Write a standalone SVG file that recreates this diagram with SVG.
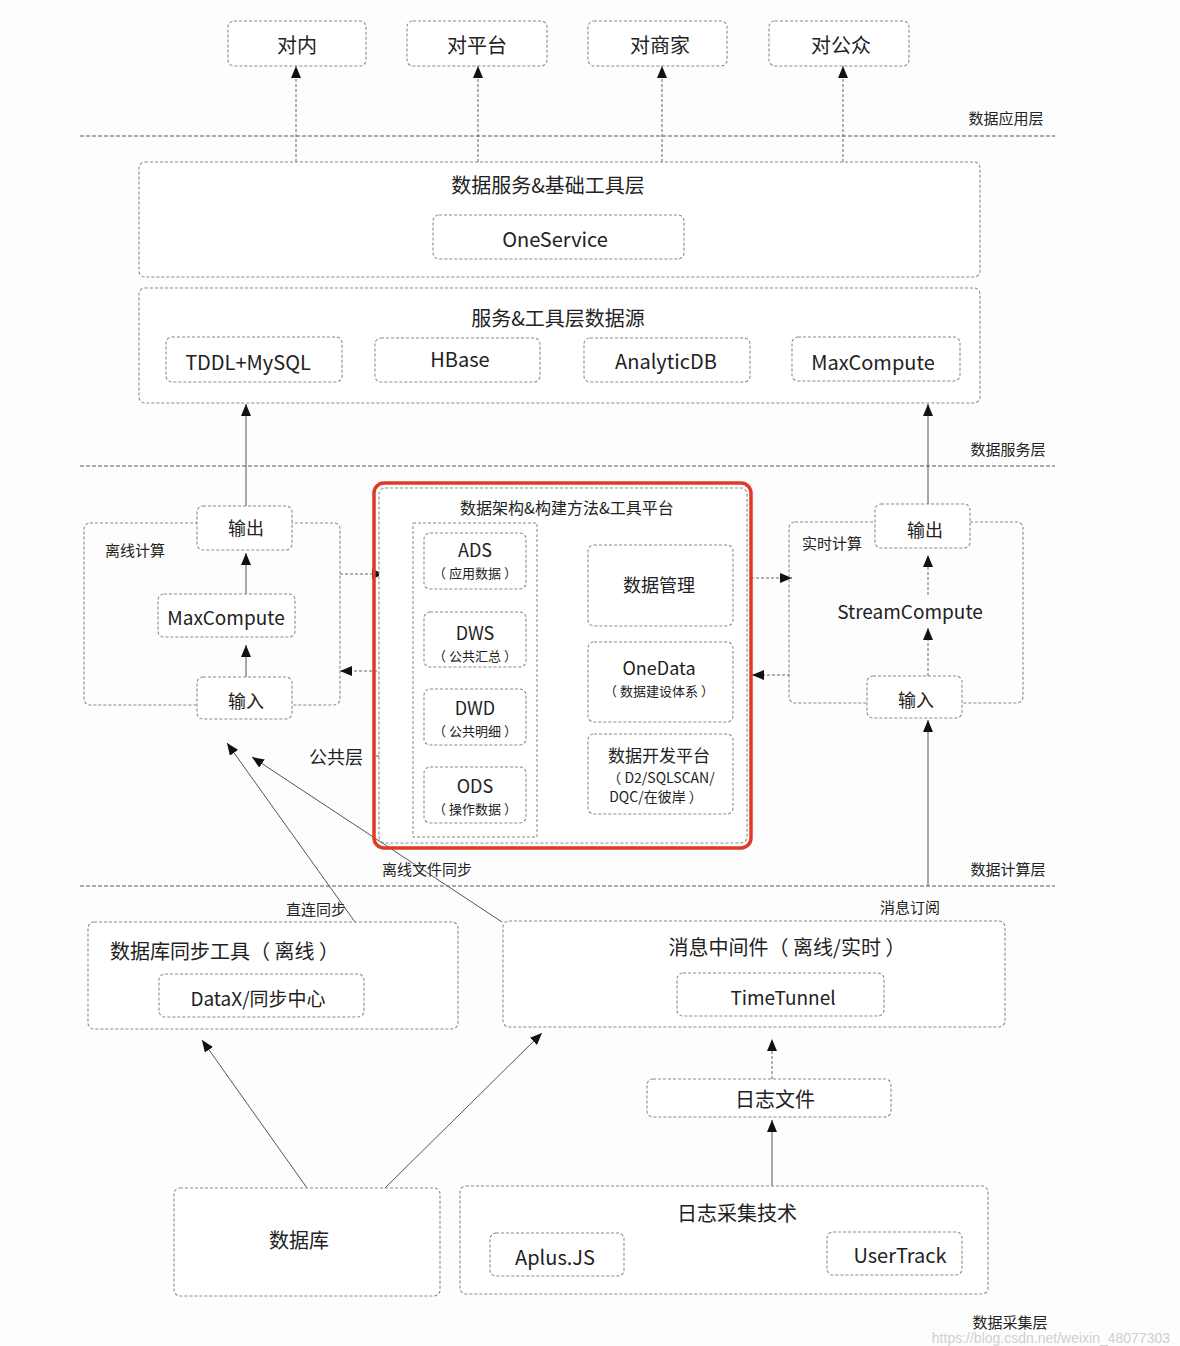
<svg xmlns="http://www.w3.org/2000/svg" width="1180" height="1346" viewBox="0 0 1180 1346">
<defs>
<style>
.box{fill:#fff;stroke:#8a8a8a;stroke-width:1.1;stroke-dasharray:3 2}
.sep{stroke:#8f8f8f;stroke-width:1.4;stroke-dasharray:4 2;fill:none}
.ln{stroke:#555;stroke-width:1;fill:none}
.dl{stroke:#666;stroke-width:1;fill:none;stroke-dasharray:3 2}
.t{font-family:"Noto Sans CJK SC","Noto Sans",sans-serif;fill:#222;text-anchor:middle;dominant-baseline:central}
.l{text-anchor:start}
.s13{font-size:13px}.s14{font-size:14px}.s15{font-size:15px}.s16{font-size:16px}.s17{font-size:17px}.s18{font-size:18px}.s19{font-size:19px}.s20{font-size:20px}
</style>
<marker id="ah" viewBox="0 0 12 10" refX="12" refY="5" markerWidth="12" markerHeight="10" orient="auto" markerUnits="userSpaceOnUse">
<path d="M0,0 L12,5 L0,10 z" fill="#111"/>
</marker>
</defs>
<rect width="1180" height="1346" fill="#fdfdfd"/>

<g id="separators">
<line class="sep" x1="80" y1="136" x2="1055" y2="136"/>
<line class="sep" x1="80" y1="466" x2="1055" y2="466"/>
<line class="sep" x1="80" y1="886" x2="1055" y2="886"/>
</g>

<g id="layer-labels">
<text class="t s15" x="1006" y="117">数据应用层</text>
<text class="t s15" x="1008" y="448">数据服务层</text>
<text class="t s15" x="1008" y="868">数据计算层</text>
<text class="t s15" x="1010" y="1321">数据采集层</text>
</g>

<g id="connectors">
<line class="dl" x1="296" y1="162" x2="296" y2="66" marker-end="url(#ah)"/>
<line class="dl" x1="478" y1="162" x2="478" y2="66" marker-end="url(#ah)"/>
<line class="dl" x1="662" y1="162" x2="662" y2="66" marker-end="url(#ah)"/>
<line class="dl" x1="843" y1="162" x2="843" y2="66" marker-end="url(#ah)"/>
<line class="ln" x1="246" y1="506" x2="246" y2="404" marker-end="url(#ah)"/>
<line class="ln" x1="928" y1="504" x2="928" y2="404" marker-end="url(#ah)"/>
<line class="ln" x1="246" y1="594" x2="246" y2="553" marker-end="url(#ah)"/>
<line class="ln" x1="246" y1="677" x2="246" y2="645" marker-end="url(#ah)"/>
<line class="dl" x1="340" y1="574" x2="384" y2="574" marker-end="url(#ah)"/>
<line class="dl" x1="382" y1="671" x2="340" y2="671" marker-end="url(#ah)"/>
<line class="dl" x1="751" y1="578" x2="792" y2="578" marker-end="url(#ah)"/>
<line class="dl" x1="790" y1="675" x2="752" y2="675" marker-end="url(#ah)"/>
<line class="dl" x1="588" y1="564" x2="543" y2="564" marker-end="url(#ah)"/>
<line class="dl" x1="588" y1="688" x2="543" y2="688" marker-end="url(#ah)"/>
<line class="dl" x1="588" y1="794" x2="543" y2="794" marker-end="url(#ah)"/>
<line class="dl" x1="928" y1="595" x2="928" y2="555" marker-end="url(#ah)"/>
<line class="dl" x1="928" y1="676" x2="928" y2="628" marker-end="url(#ah)"/>
<line class="ln" x1="928" y1="886" x2="928" y2="720" marker-end="url(#ah)"/>
<line class="ln" x1="355" y1="922" x2="227" y2="743" marker-end="url(#ah)"/>
<line class="ln" x1="502" y1="922" x2="252" y2="757" marker-end="url(#ah)"/>
<line class="ln" x1="307" y1="1188" x2="202" y2="1040" marker-end="url(#ah)"/>
<line class="ln" x1="385" y1="1188" x2="542" y2="1033" marker-end="url(#ah)"/>
<line class="dl" x1="772" y1="1079" x2="772" y2="1039" marker-end="url(#ah)"/>
<line class="ln" x1="772" y1="1186" x2="772" y2="1120" marker-end="url(#ah)"/>
<polyline class="ln" points="424,633 397,633 397,808 424,808"/>
<line class="ln" x1="376" y1="756" x2="397" y2="756"/>
</g>

<g id="app-neinei"><rect class="box" x="228" y="21" width="138" height="45" rx="6"/><text class="t s20" x="297" y="44">对内</text></g>
<g id="app-platform"><rect class="box" x="407" y="21" width="140" height="45" rx="6"/><text class="t s20" x="477" y="44">对平台</text></g>
<g id="app-merchant"><rect class="box" x="588" y="21" width="139" height="45" rx="6"/><text class="t s20" x="660" y="44">对商家</text></g>
<g id="app-public"><rect class="box" x="769" y="21" width="140" height="45" rx="6"/><text class="t s20" x="841" y="44">对公众</text></g>

<g id="service-tool-layer">
<rect class="box" x="139" y="162" width="841" height="115" rx="6"/>
<text class="t s20" x="548" y="184">数据服务&amp;基础工具层</text>
</g>
<g id="oneservice"><rect class="box" x="433" y="215" width="251" height="44" rx="6"/><text class="t s20" x="555" y="238">OneService</text></g>

<g id="datasource-layer">
<rect class="box" x="139" y="288" width="841" height="115" rx="6"/>
<text class="t s20" x="558" y="317">服务&amp;工具层数据源</text>
</g>
<g id="tddl"><rect class="box" x="166" y="337" width="176" height="45" rx="6"/><text class="t s20" x="248" y="361">TDDL+MySQL</text></g>
<g id="hbase"><rect class="box" x="375" y="338" width="165" height="44" rx="6"/><text class="t s20" x="460" y="358">HBase</text></g>
<g id="analyticdb"><rect class="box" x="584" y="338" width="166" height="44" rx="6"/><text class="t s20" x="666" y="360">AnalyticDB</text></g>
<g id="maxcompute-store"><rect class="box" x="792" y="337" width="168" height="44" rx="6"/><text class="t s20" x="873" y="361">MaxCompute</text></g>

<g id="offline-compute">
<rect class="box" x="84" y="523" width="256" height="182" rx="6" style="fill:none"/>
<text class="t s15 l" x="105" y="549">离线计算</text>
</g>
<g id="offline-output"><rect class="box" x="197" y="506" width="95" height="44" rx="6"/><text class="t s18" x="246" y="527">输出</text></g>
<g id="offline-maxcompute"><rect class="box" x="158" y="594" width="137" height="43" rx="6"/><text class="t s19" x="226" y="616">MaxCompute</text></g>
<g id="offline-input"><rect class="box" x="197" y="677" width="95" height="42" rx="6"/><text class="t s18" x="246" y="700">输入</text></g>

<g id="platform">
<rect class="box" x="379" y="488" width="368" height="355" rx="6"/>
<text class="t s16" x="567" y="507">数据架构&amp;构建方法&amp;工具平台</text>
<rect x="413" y="523" width="124" height="314" fill="none" stroke="#888" stroke-width="1" stroke-dasharray="3 2"/>
<rect x="374" y="483" width="377" height="365" rx="10" fill="none" stroke="#e03a26" stroke-width="3.5"/>
</g>
<g id="ads"><rect class="box" x="424" y="533" width="102" height="56" rx="6"/><text class="t s18" x="475" y="549">ADS</text><text class="t s13" x="475" y="572">（ 应用数据 ）</text></g>
<g id="dws"><rect class="box" x="424" y="612" width="102" height="55" rx="6"/><text class="t s18" x="475" y="632">DWS</text><text class="t s13" x="475" y="655">（ 公共汇总 ）</text></g>
<g id="dwd"><rect class="box" x="424" y="689" width="102" height="56" rx="6"/><text class="t s18" x="475" y="707">DWD</text><text class="t s13" x="475" y="730">（ 公共明细 ）</text></g>
<g id="ods"><rect class="box" x="424" y="767" width="102" height="56" rx="6"/><text class="t s18" x="475" y="785">ODS</text><text class="t s13" x="475" y="808">（ 操作数据 ）</text></g>
<g id="data-mgmt"><rect class="box" x="588" y="545" width="145" height="81" rx="6"/><text class="t s18" x="659" y="584">数据管理</text></g>
<g id="onedata"><rect class="box" x="588" y="642" width="145" height="80" rx="6"/><text class="t s18" x="659" y="667">OneData</text><text class="t s13" x="659" y="690">（ 数据建设体系 ）</text></g>
<g id="dev-platform"><rect class="box" x="588" y="734" width="145" height="80" rx="6"/><text class="t s17" x="659" y="754">数据开发平台</text><text class="t s14" x="661" y="777">（ D2/SQLSCAN/</text><text class="t s14" x="656" y="796">DQC/在彼岸 ）</text></g>
<g id="public-layer-label"><text class="t s18" x="336" y="756">公共层</text></g>

<g id="realtime-compute">
<rect class="box" x="789" y="522" width="234" height="181" rx="6" style="fill:none"/>
<text class="t s15 l" x="802" y="542">实时计算</text>
<text class="t s19" x="910" y="610">StreamCompute</text>
</g>
<g id="realtime-output"><rect class="box" x="875" y="504" width="95" height="44" rx="6"/><text class="t s18" x="925" y="529">输出</text></g>
<g id="realtime-input"><rect class="box" x="867" y="676" width="95" height="42" rx="6"/><text class="t s18" x="916" y="699">输入</text></g>

<g id="edge-labels">
<text class="t s15" x="427" y="868">离线文件同步</text>
<text class="t s15" x="316" y="908">直连同步</text>
<text class="t s15" x="910" y="906">消息订阅</text>
</g>

<g id="db-sync-tool">
<rect class="box" x="88" y="922" width="370" height="107" rx="6"/>
<text class="t s20 l" x="110" y="950">数据库同步工具（ 离线 ）</text>
</g>
<g id="datax"><rect class="box" x="159" y="974" width="205" height="43" rx="6"/><text class="t s19" x="258" y="997">DataX/同步中心</text></g>

<g id="message-middleware">
<rect class="box" x="503" y="921" width="502" height="106" rx="6"/>
<text class="t s20" x="787" y="946">消息中间件（ 离线/实时 ）</text>
</g>
<g id="timetunnel"><rect class="box" x="677" y="973" width="207" height="43" rx="6"/><text class="t s19" x="783" y="996">TimeTunnel</text></g>
<g id="log-file"><rect class="box" x="647" y="1079" width="244" height="38" rx="6"/><text class="t s20" x="775" y="1098">日志文件</text></g>

<g id="database"><rect class="box" x="174" y="1188" width="266" height="108" rx="6"/><text class="t s20" x="299" y="1239">数据库</text></g>
<g id="log-collect">
<rect class="box" x="460" y="1186" width="528" height="108" rx="6"/>
<text class="t s20" x="737" y="1212">日志采集技术</text>
</g>
<g id="aplus"><rect class="box" x="490" y="1233" width="134" height="43" rx="6"/><text class="t s20" x="555" y="1256">Aplus.JS</text></g>
<g id="usertrack"><rect class="box" x="827" y="1232" width="135" height="43" rx="6"/><text class="t s20" x="900" y="1254">UserTrack</text></g>

<text x="1170" y="1343" font-family="Liberation Sans, sans-serif" font-size="14" fill="#cfcfcf" text-anchor="end">https://blog.csdn.net/weixin_48077303</text>
</svg>
